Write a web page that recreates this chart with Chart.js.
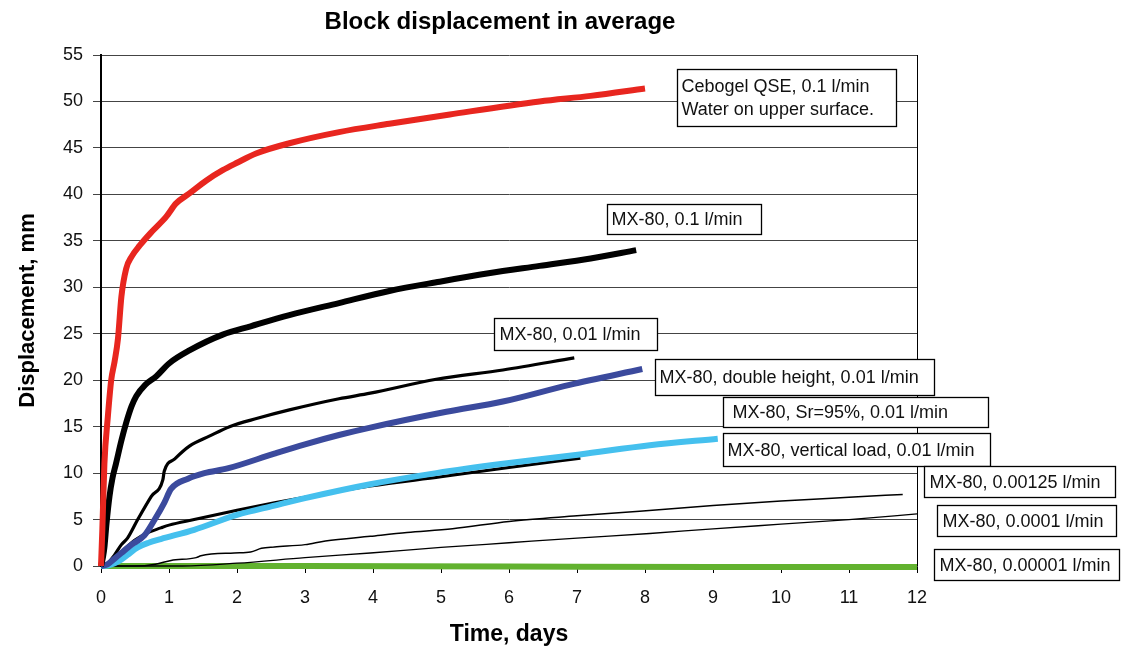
<!DOCTYPE html>
<html>
<head>
<meta charset="utf-8">
<script src="https://cdn.jsdelivr.net/npm/chart.js@4.4.1/dist/chart.umd.min.js"></script>
<style>
  html, body { margin: 0; padding: 0; background: #fff; }
  #wrap { width: 1125px; height: 651px; }
</style>
</head>
<body>
<div id="wrap"><canvas id="chart" width="1125" height="651"></canvas></div>
<script>
// series, [time in days, displacement in mm]
const cebogel = [[0,0],[0.02,4],[0.05,11],[0.1,16],[0.15,20],[0.2,22],[0.25,24.5],[0.3,29],[0.37,32],[0.45,33.3],[0.57,34.5],[0.75,36],[0.96,37.6],[1.1,39],[1.3,40.1],[1.55,41.5],[1.79,42.6],[2.0,43.4],[2.28,44.4],[2.77,45.5],[3.5,46.7],[4.24,47.6],[5.13,48.6],[6.45,50.0],[7.2,50.6],[8.0,51.4]];
const mx80_01 = [[0,0],[0.03,1],[0.05,2],[0.08,4.5],[0.125,7.5],[0.17,9.5],[0.22,11],[0.3,13.5],[0.37,15.4],[0.45,17.2],[0.52,18.3],[0.65,19.5],[0.81,20.4],[1.0,21.8],[1.3,23.2],[1.79,24.9],[2.2,25.8],[2.77,27.0],[3.5,28.3],[4.24,29.6],[4.98,30.6],[5.7,31.5],[6.45,32.3],[7.2,33.1],[7.87,34.0]];
const mx80_001 = [[0,0],[0.07,0.1],[0.2,1.2],[0.3,2.3],[0.39,3.0],[0.54,5.0],[0.74,7.5],[0.91,9.3],[0.93,10.2],[1.08,11.5],[1.3,12.9],[1.6,14.0],[1.89,15.0],[2.3,15.9],[2.77,16.8],[3.5,18.0],[3.96,18.6],[4.93,20.1],[5.91,21.1],[6.96,22.4]];
const doubleHeight = [[0,0],[0.1,0.2],[0.2,0.8],[0.3,1.4],[0.45,2.3],[0.64,3.3],[0.79,5.0],[0.93,6.8],[1.03,8.3],[1.28,9.4],[1.52,10.0],[1.86,10.5],[2.55,12.1],[3.0,13.1],[3.5,14.1],[3.96,14.9],[5.08,16.6],[5.91,17.7],[6.89,19.5],[7.96,21.2]];
const sr95 = [[0,0],[0.1,0.3],[0.2,0.8],[0.37,2.0],[0.5,2.8],[0.66,3.5],[0.88,4.1],[1.0,4.4],[1.37,5.0],[2.0,6.0],[2.55,6.8],[3.0,7.4],[3.96,8.6],[5.0,9.6],[6.0,10.6],[7.05,11.6]];
const verticalLoad = [[0,0],[0.1,0.05],[0.2,0.3],[0.3,0.7],[0.39,1.2],[0.54,2.0],[0.7,2.5],[0.88,2.9],[1.37,3.9],[2.0,5.5],[2.55,6.5],[3.0,7.3],[3.96,8.8],[4.93,10.0],[5.91,11.0],[7.04,12.0],[8.07,13.0],[9.07,13.7]];
const mx80_000125 = [[0,0],[0.5,0],[0.8,0.2],[1.03,0.6],[1.4,0.9],[1.47,1.1],[1.96,1.4],[2.2,1.5],[2.36,1.9],[2.55,2.05],[3.0,2.3],[3.3,2.7],[3.96,3.2],[4.5,3.6],[5.17,4.0],[6.0,4.8],[7.0,5.4],[7.92,5.9],[9.0,6.5],[10.0,7.0],[11.0,7.4],[11.79,7.7]];
const mx80_00001 = [[0,0],[1.2,0],[2.0,0.3],[3.0,0.9],[3.96,1.4],[5.0,2.0],[6.0,2.5],[7.0,3.0],[8.07,3.5],[9.0,4.0],[10.0,4.5],[11.0,5.0],[12.0,5.6]];
const mx80_000001 = [[0,0],[3,0],[6,-0.05],[9,-0.1],[12,-0.1]];

const xTicks = [0,1,2,3,4,5,6,7,8,9,10,11,12];
const yTicks = [0,5,10,15,20,25,30,35,40,45,50,55];

const noteTexts = [
  ['Cebogel QSE, 0.1 l/min', 'Water on upper surface.'],
  ['MX-80, 0.1 l/min'],
  ['MX-80, 0.01 l/min'],
  ['MX-80, double height, 0.01 l/min'],
  ['MX-80, Sr=95%, 0.01 l/min'],
  ['MX-80, vertical load, 0.01 l/min'],
  ['MX-80, 0.00125 l/min'],
  ['MX-80, 0.0001 l/min'],
  ['MX-80, 0.00001 l/min']
];

const FONT = '"Liberation Sans", Arial, sans-serif';

// box corners in axis units (days / mm), text left padding in px
const noteBoxes = [
  { x0: 8.47, y0: 53.49, x1: 11.69, y1: 47.36, pad: 4 },
  { x0: 7.44, y0: 38.96, x1: 9.71, y1: 35.73, pad: 4 },
  { x0: 5.78, y0: 26.69, x1: 8.18, y1: 23.25, pad: 5 },
  { x0: 8.15, y0: 22.28, x1: 12.25, y1: 18.40, pad: 4 },
  { x0: 9.15, y0: 18.19, x1: 13.04, y1: 14.96, pad: 9 },
  { x0: 9.15, y0: 14.32, x1: 13.07, y1: 10.76, pad: 4 },
  { x0: 12.10, y0: 10.76, x1: 14.91, y1: 7.43, pad: 5 },
  { x0: 12.29, y0: 6.57, x1: 14.93, y1: 3.23, pad: 5 },
  { x0: 12.25, y0: 1.83, x1: 14.97, y1: -1.51, pad: 5 }
];

const toPts = arr => arr.map(p => ({ x: p[0], y: p[1] }));

function line(label, data, color, width, order) {
  return {
    label: label,
    data: toPts(data),
    borderColor: color,
    backgroundColor: color,
    borderWidth: width,
    pointRadius: 0,
    cubicInterpolationMode: 'monotone',
    fill: false,
    clip: false,
    order: order
  };
}

const extras = {
  id: 'extras',
  afterDraw(chart) {
    const ctx = chart.ctx;
    const area = chart.chartArea;
    const xs = chart.scales.x, ys = chart.scales.y;
    ctx.save();
    // right frame line
    ctx.strokeStyle = '#000';
    ctx.lineWidth = 1;
    ctx.beginPath();
    ctx.moveTo(Math.round(area.right) + 0.5, area.top);
    ctx.lineTo(Math.round(area.right) + 0.5, area.bottom);
    ctx.stroke();

    // title
    ctx.fillStyle = '#000';
    ctx.font = 'bold 24px ' + FONT;
    ctx.textAlign = 'center';
    ctx.textBaseline = 'middle';
    ctx.fillText('Block displacement in average', 500, 22);

    // note boxes
    ctx.font = '18px ' + FONT;
    ctx.textAlign = 'left';
    noteBoxes.forEach((b, i) => {
      const l = Math.round(xs.getPixelForValue(b.x0)) + 0.5;
      const r = Math.round(xs.getPixelForValue(b.x1)) + 0.5;
      const t = Math.round(ys.getPixelForValue(b.y0)) + 0.5;
      const bt = Math.round(ys.getPixelForValue(b.y1)) + 0.5;
      ctx.fillStyle = '#fff';
      ctx.fillRect(l, t, r - l, bt - t);
      ctx.strokeStyle = '#000';
      ctx.lineWidth = 1.3;
      ctx.strokeRect(l, t, r - l, bt - t);
      ctx.fillStyle = '#111';
      const lines = noteTexts[i];
      const lh = 23;
      const mid = (t + bt) / 2;
      lines.forEach((txt, k) => {
        const y = mid + (k - (lines.length - 1) / 2) * lh + 1;
        ctx.fillText(txt, l + b.pad, y);
      });
    });
    ctx.restore();
  }
};

const chart = new Chart(document.getElementById('chart'), {
  type: 'line',
  data: {
    datasets: [
      line('MX-80, 0.00001 l/min', mx80_000001, '#62b22f', 6, 9),
      line('MX-80, 0.0001 l/min', mx80_00001, '#000', 1.3, 8),
      line('MX-80, 0.00125 l/min', mx80_000125, '#000', 1.5, 7),
      line('MX-80, Sr=95%, 0.01 l/min', sr95, '#000', 3, 6),
      line('MX-80, vertical load, 0.01 l/min', verticalLoad, '#45c0ee', 6, 5),
      line('MX-80, 0.01 l/min', mx80_001, '#000', 3.2, 4),
      line('MX-80, double height, 0.01 l/min', doubleHeight, '#3b4a9d', 6, 3),
      line('MX-80, 0.1 l/min', mx80_01, '#000', 6, 2),
      line('Cebogel QSE, 0.1 l/min', cebogel, '#e8261f', 6, 1)
    ]
  },
  options: {
    responsive: false,
    animation: false,
    layout: { padding: { top: 55, right: 208, bottom: 0, left: 0 } },
    plugins: {
      legend: { display: false },
      title: { display: false },
      tooltip: { enabled: false }
    },
    scales: {
      x: {
        type: 'linear',
        min: 0,
        max: 12,
        afterBuildTicks: s => { s.ticks = xTicks.map(v => ({ value: v })); },
        afterFit: s => { s.height = 85; s.paddingLeft = 0; s.paddingRight = 0; },
        ticks: { color: '#111', font: { family: FONT, size: 18 }, padding: 14, maxRotation: 0 },
        grid: { drawOnChartArea: false, drawTicks: true, tickLength: 7, color: '#000', lineWidth: 1 },
        border: { color: '#000', width: 1.5 },
        title: { display: true, text: 'Time, days', color: '#000', font: { family: FONT, size: 23, weight: 'bold' }, padding: { top: 0, bottom: 3 } }
      },
      y: {
        min: 0,
        max: 55,
        afterBuildTicks: s => { s.ticks = yTicks.map(v => ({ value: v })); },
        afterFit: s => { s.width = 101; s.paddingTop = 0; s.paddingBottom = 0; },
        ticks: { color: '#111', font: { family: FONT, size: 18 }, padding: 10 },
        grid: { color: '#444', lineWidth: 1, tickLength: 8 },
        border: { color: '#000', width: 2 },
        title: { display: true, text: 'Displacement, mm', color: '#000', font: { family: FONT, size: 22, weight: 'bold' }, padding: { top: 15, bottom: 0 } }
      }
    }
  },
  plugins: [extras]
});
</script>
</body>
</html>
